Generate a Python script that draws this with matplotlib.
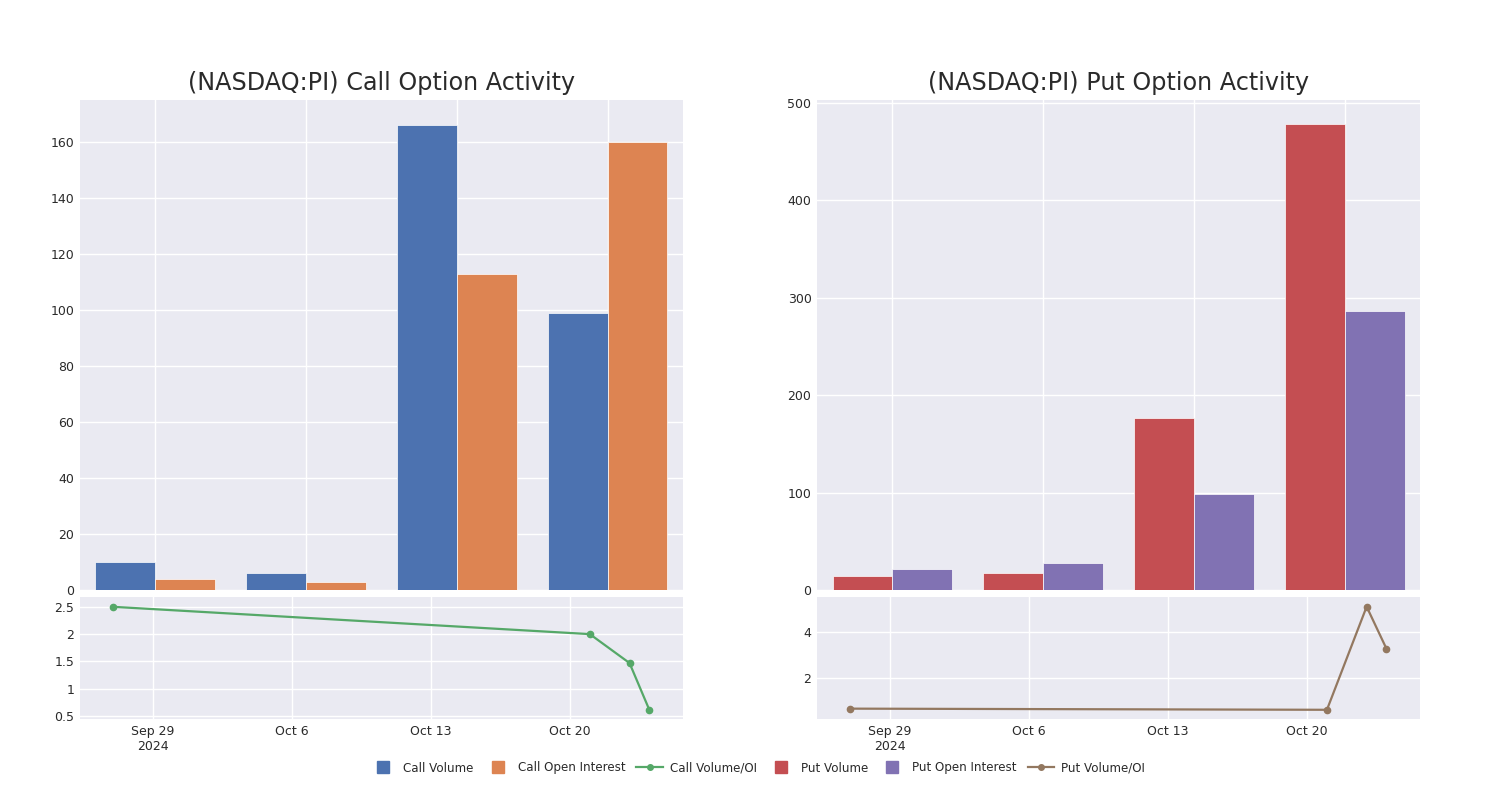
import numpy as np
import matplotlib.pyplot as plt
import matplotlib.dates as mdates
from matplotlib.lines import Line2D
from matplotlib.ticker import FuncFormatter

# weekly bar data
weeks = np.array(['2024-09-29', '2024-10-06', '2024-10-13', '2024-10-20'], dtype='datetime64[D]')
call_volume = [10, 6, 166, 99]
call_oi = [4, 3, 113, 160]
put_volume = [14, 17, 177, 478]
put_oi = [22, 28, 99, 286]

# daily ratio data
ratio_days = np.array(['2024-09-27', '2024-10-21', '2024-10-23', '2024-10-24'], dtype='datetime64[D]')
call_ratio = [2.5, 2.0, 1.47, 0.61]
put_ratio = [0.67, 0.62, 5.1, 3.27]

tick_labels = ['Sep 29\n2024', 'Oct 6', 'Oct 13', 'Oct 20']

BG = '#EAEAF2'
TXT = '#2a2a2a'
colors = {'cv': '#4C72B0', 'coi': '#DD8452', 'cr': '#55A868',
          'pv': '#C44E52', 'poi': '#8172B3', 'pr': '#937860'}

fig = plt.figure(figsize=(15, 8), dpi=100)

week_num = mdates.date2num(weeks.astype('datetime64[s]').astype(object))
day_num = mdates.date2num(ratio_days.astype('datetime64[s]').astype(object))
bw = 2.78


def style(ax):
    ax.set_facecolor(BG)
    for s in ax.spines.values():
        s.set_visible(False)
    ax.grid(True, color='white', lw=1)
    ax.set_axisbelow(True)
    ax.tick_params(length=0, labelsize=9, colors=TXT, pad=4)


def fmt(v, pos):
    return ('%g' % v)


def panel(x0, title, vol, oi, ratio, c1, c2, c3, ylim_top, yticks_top, ylim_bot, yticks_bot):
    ax = fig.add_axes([x0, 0.2625, 0.402, 0.6125])
    style(ax)
    ax.bar(week_num - bw / 2, vol, width=bw, color=c1, edgecolor='white', linewidth=0.5)
    ax.bar(week_num + bw / 2, oi, width=bw, color=c2, edgecolor='white', linewidth=0.5)
    ax.set_xlim(week_num[0] - 3.5, week_num[-1] + 3.5)
    ax.set_xticks(week_num)
    ax.set_xticklabels([])
    ax.set_ylim(0, ylim_top)
    ax.set_yticks(yticks_top)
    ax.set_title(title, fontsize=17.2, color=TXT, pad=7)

    bx = fig.add_axes([x0, 0.10125, 0.402, 0.1525])
    style(bx)
    bx.plot(day_num, ratio, color=c3, lw=1.6, marker='o', ms=4.5)
    bx.set_xlim(week_num[0] - 3.68, week_num[-1] + 5.69)
    bx.set_xticks(week_num)
    bx.set_xticklabels(tick_labels)
    bx.set_ylim(*ylim_bot)
    bx.set_yticks(yticks_bot)
    bx.yaxis.set_major_formatter(FuncFormatter(fmt))
    return ax, bx


panel(0.0533, '(NASDAQ:PI) Call Option Activity', call_volume, call_oi, call_ratio,
      colors['cv'], colors['coi'], colors['cr'], 175, np.arange(0, 161, 20),
      (0.445, 2.68), [0.5, 1, 1.5, 2, 2.5])
panel(0.5447, '(NASDAQ:PI) Put Option Activity', put_volume, put_oi, put_ratio,
      colors['pv'], colors['poi'], colors['pr'], 503, np.arange(0, 501, 100),
      (0.22, 5.52), [2, 4])

handles = [
    Line2D([], [], ls='none', marker='s', ms=8, color=colors['cv'], label='Call Volume'),
    Line2D([], [], ls='none', marker='s', ms=8, color=colors['coi'], label='Call Open Interest'),
    Line2D([], [], color=colors['cr'], lw=1.6, marker='o', ms=4, label='Call Volume/OI'),
    Line2D([], [], ls='none', marker='s', ms=8, color=colors['pv'], label='Put Volume'),
    Line2D([], [], ls='none', marker='s', ms=8, color=colors['poi'], label='Put Open Interest'),
    Line2D([], [], color=colors['pr'], lw=1.6, marker='o', ms=4, label='Put Volume/OI'),
]
fig.legend(handles=handles, loc='center', bbox_to_anchor=(0.505, 0.04), ncol=6,
           frameon=False, fontsize=8.6, handlelength=2.2, handletextpad=0.6,
           columnspacing=0.9, labelcolor=TXT)

fig.savefig('out.png', dpi=100, facecolor='white')
